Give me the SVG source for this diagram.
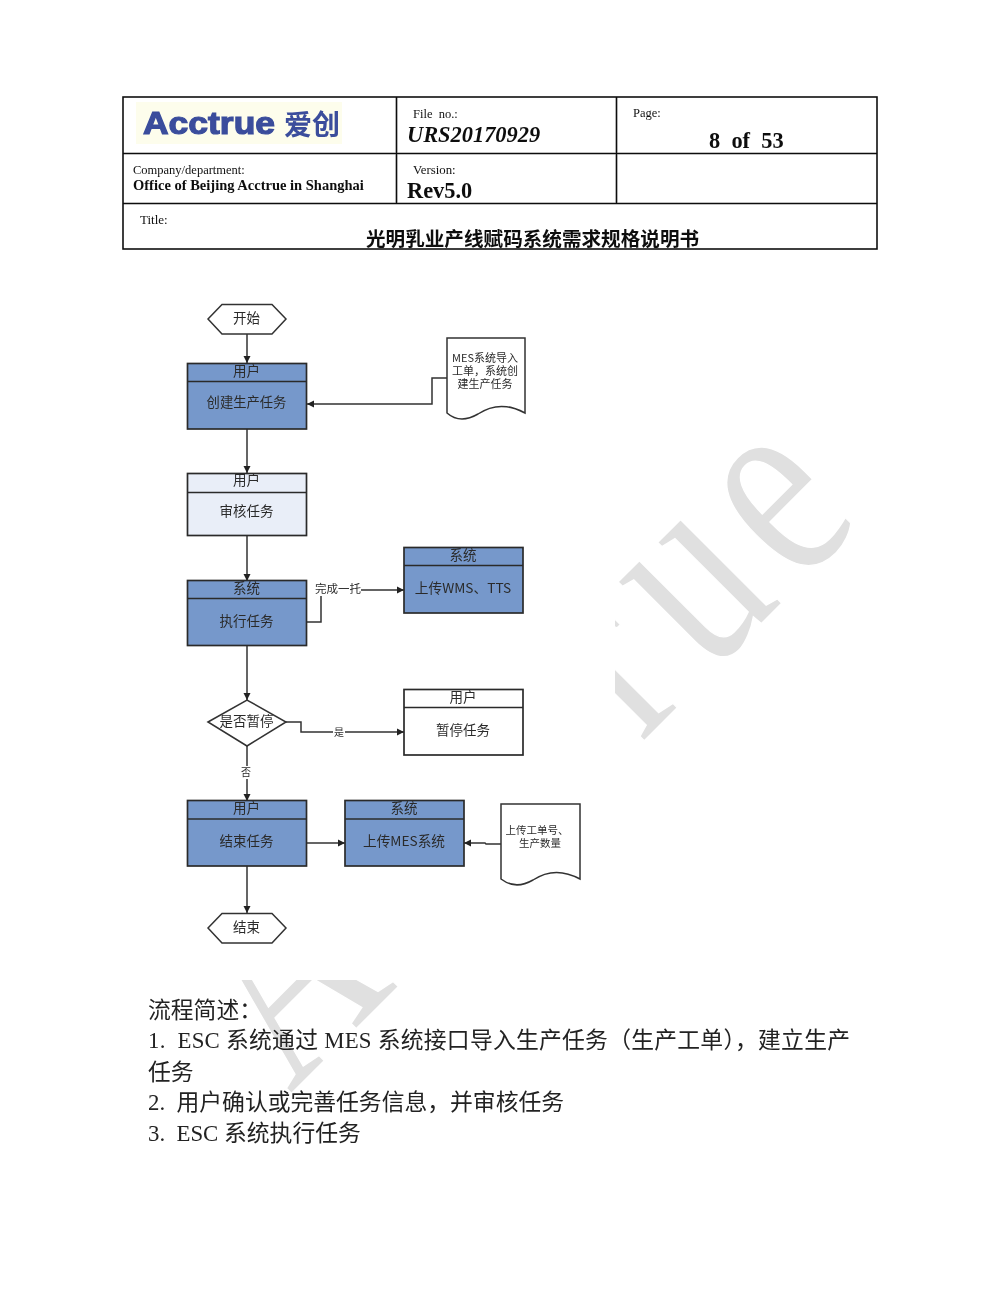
<svg xmlns="http://www.w3.org/2000/svg" width="1000" height="1294" viewBox="0 0 1000 1294">
<style>
.t{font-family:"Liberation Serif","Noto Sans CJK SC",serif;fill:#111}
.b{font-weight:bold}
.s{font-family:"Noto Sans CJK SC","Liberation Sans",sans-serif;fill:#2b2b2b;text-anchor:middle}
.body{font-family:"Liberation Serif","Noto Sans CJK SC",serif;font-size:22.800px;fill:#222}
.grid{stroke:#111;stroke-width:1.6;fill:none}
.box{stroke:#2b2b2b;stroke-width:1.7}
.blue{fill:#7698cb}
.pale{fill:#e9eef8}
.white{fill:#fff}
.shape{fill:#fff;stroke:#333;stroke-width:1.5}
.c{fill:none;stroke:#333;stroke-width:1.5}
.ca{marker-end:url(#arr)}
</style>
<defs>
<marker id="arr" markerUnits="userSpaceOnUse" markerWidth="8" markerHeight="8" refX="7" refY="4" orient="auto"><path d="M0 0.500L7 4L0 7.500z" fill="#222"/></marker>
<filter id="soft" filterUnits="userSpaceOnUse" x="0" y="0" width="1000" height="1294"><feGaussianBlur stdDeviation="0.55"/></filter>
</defs>
<rect width="1000" height="1294" fill="#fff"/>
<g id="watermark">
<text transform="translate(286 1099) rotate(-45) scale(0.75 1)" font-family="Liberation Serif" font-size="285" fill="#e0e0e0" stroke="#fff" stroke-width="1.5" x="8 233 387 540 670 797 964" y="0">Acctrue</text>
</g>
<rect id="flow-bg" x="160" y="290" width="455" height="690" fill="#fff"/>
<g filter="url(#soft)">
<g id="header">
<rect class="grid" x="123" y="97" width="754" height="152"/>
<path class="grid" d="M123 153.500H877M123 203.500H877M396.500 97V203.500M616.500 97V203.500"/>
<g id="logo">
<rect x="136" y="102" width="206" height="42" fill="#fdfdec"/>
<text x="143" y="134" font-family="Liberation Sans" font-weight="bold" font-size="31" fill="#3a4d9c" stroke="#3a4d9c" stroke-width="1.2" textLength="132" lengthAdjust="spacingAndGlyphs">Acctrue</text>
<text x="284" y="135" font-family="Noto Sans CJK SC" font-weight="bold" font-size="28" fill="#3a4d9c">爱创</text>
</g>
<text class="t" x="413" y="118" font-size="12.500" xml:space="preserve">File  no.:</text>
<text class="t" x="407" y="142" font-size="22.400" font-style="italic" font-weight="bold">URS20170929</text>
<text class="t" x="633" y="117" font-size="12.500">Page:</text>
<text class="t b" x="709" y="148" font-size="22.400" xml:space="preserve">8  of  53</text>
<text class="t" x="133" y="174" font-size="12.500">Company/department:</text>
<text class="t b" x="133" y="190" font-size="14.500">Office of Beijing Acctrue in Shanghai</text>
<text class="t" x="413" y="174" font-size="12.800">Version:</text>
<text class="t b" x="407" y="198" font-size="22.400">Rev5.0</text>
<text class="t" x="140" y="224" font-size="13">Title:</text>
<text class="t b" x="366" y="246" font-size="19.600">光明乳业产线赋码系统需求规格说明书</text>
</g>
<g id="connectors">
<path class="c ca" d="M247 334V363"/>
<path class="c ca" d="M247 429V473"/>
<path class="c ca" d="M247 535V581"/>
<path class="c ca" d="M247 645V700"/>
<path class="c ca" d="M247 746V801"/>
<path class="c ca" d="M247 866V913"/>
<path class="c ca" d="M447 378H432V404H307"/>
<path class="c ca" d="M306 622H321V590H404"/>
<path class="c ca" d="M286 722H301V732H404"/>
<path class="c ca" d="M306 843H345"/>
<path class="c ca" d="M501 844H486L485 843H464"/>
</g>
<g id="edge-labels">
<rect x="315" y="582" width="46" height="14" fill="#fff"/>
<text class="s" x="338" y="593" font-size="11.500">完成一托</text>
<rect x="333" y="726" width="12" height="12" fill="#fff"/>
<text class="s" x="339" y="736" font-size="10">是</text>
<rect x="240" y="766" width="13" height="13" fill="#fff"/>
<text class="s" x="246" y="776" font-size="10">否</text>
</g>
<g id="start"><path class="shape" d="M208 319L222 304.500H272L286 319L272 334H222z"/><text class="s" x="246.500" y="323" font-size="13.500">开始</text></g>
<g id="doc1"><path class="shape" d="M447 338H525V413C505 402 490 406 478 414C466 421 455 420 447 413z"/><text class="s" font-size="11"><tspan x="485" y="362">MES系统导入</tspan><tspan x="485" y="375">工单，系统创</tspan><tspan x="485" y="388">建生产任务</tspan></text></g>
<g id="create"><rect class="box blue" x="187.500" y="363.500" width="119" height="65.500"/><path class="box" d="M187.500 381.500H306.500"/><text class="s" x="246.500" y="376" font-size="13.500">用户</text><text class="s" x="246.500" y="407" font-size="13.300">创建生产任务</text></g>
<g id="review"><rect class="box pale" x="187.500" y="473.500" width="119" height="62"/><path class="box" d="M187.500 492.500H306.500"/><text class="s" x="246.500" y="485" font-size="13.500">用户</text><text class="s" x="246.500" y="516" font-size="13.500">审核任务</text></g>
<g id="execute"><rect class="box blue" x="187.500" y="580.500" width="119" height="65"/><path class="box" d="M187.500 598.500H306.500"/><text class="s" x="246.500" y="593" font-size="13.500">系统</text><text class="s" x="246.500" y="626" font-size="13.500">执行任务</text></g>
<g id="upload-wms"><rect class="box blue" x="404" y="547.500" width="119" height="65.500"/><path class="box" d="M404 565.500H523"/><text class="s" x="463" y="560" font-size="13.500">系统</text><text class="s" x="463" y="593" font-size="13.700">上传WMS、TTS</text></g>
<g id="pause-q"><path class="shape" d="M208 722L247 700L286 722L247 746z"/><text class="s" x="246.500" y="726" font-size="13.500">是否暂停</text></g>
<g id="pause"><rect class="box white" x="404" y="689.500" width="119" height="65.500"/><path class="box" d="M404 707.500H523"/><text class="s" x="463" y="702" font-size="13.500">用户</text><text class="s" x="463" y="735" font-size="13.500">暂停任务</text></g>
<g id="finish"><rect class="box blue" x="187.500" y="800.500" width="119" height="65.500"/><path class="box" d="M187.500 819H306.500"/><text class="s" x="246.500" y="813" font-size="13.500">用户</text><text class="s" x="246.500" y="846" font-size="13.500">结束任务</text></g>
<g id="upload-mes"><rect class="box blue" x="345" y="800.500" width="119" height="65.500"/><path class="box" d="M345 819H464"/><text class="s" x="404" y="813" font-size="13.500">系统</text><text class="s" x="404" y="846" font-size="13.700">上传MES系统</text></g>
<g id="doc2"><path class="shape" d="M501 804H580V879C560 868 545 872 533 880C521 887 510 886 501 879z"/><text class="s" font-size="10.500"><tspan x="537" y="834">上传工单号、</tspan><tspan x="540" y="847">生产数量</tspan></text></g>
<g id="end"><path class="shape" d="M208 928L222 913.500H272L286 928L272 943H222z"/><text class="s" x="246.500" y="932" font-size="13.500">结束</text></g>
<g id="description">
<text class="body" x="148" y="1018">流程简述：</text>
<text class="body" x="148" y="1048" textLength="702" xml:space="preserve">1.  ESC 系统通过 MES 系统接口导入生产任务（生产工单），建立生产</text>
<text class="body" x="148" y="1080">任务</text>
<text class="body" x="148" y="1110" xml:space="preserve">2.  用户确认或完善任务信息，并审核任务</text>
<text class="body" x="148" y="1141" xml:space="preserve">3.  ESC 系统执行任务</text>
</g>
</g>
</svg>
